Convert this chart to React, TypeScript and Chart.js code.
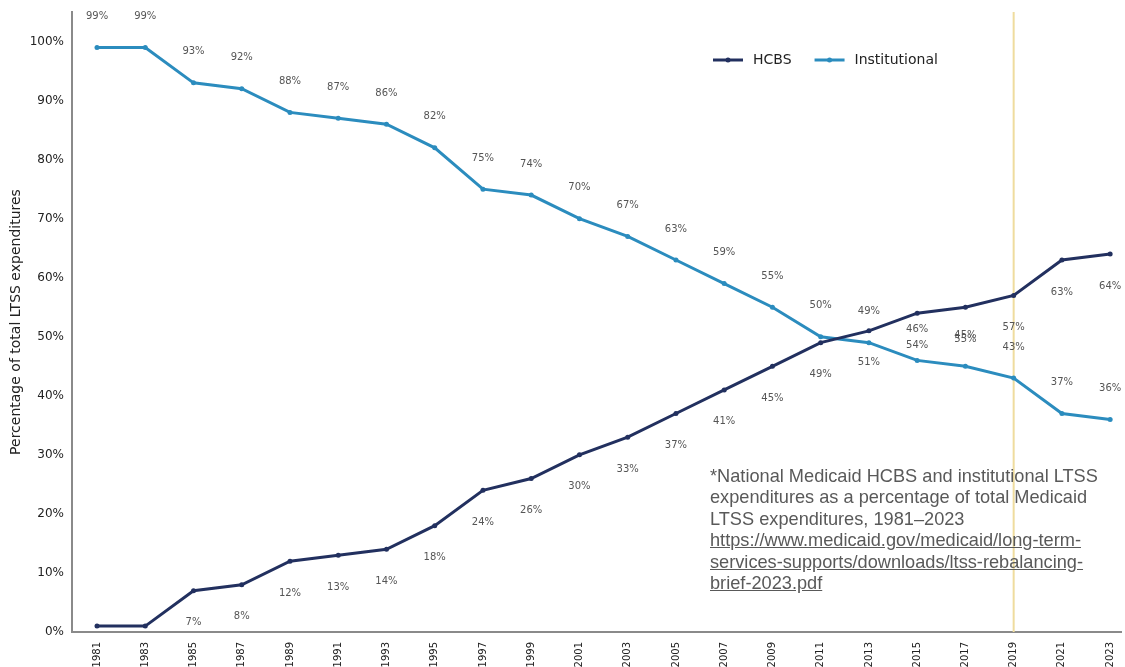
import React, { useEffect, useRef } from "react";
import { Chart, registerables } from "chart.js";

Chart.register(...registerables);

const years = [1981, 1983, 1985, 1987, 1989, 1991, 1993, 1995, 1997, 1999, 2001, 2003, 2005, 2007, 2009, 2011, 2013, 2015, 2017, 2019, 2021, 2023];
const hcbs = [1, 1, 7, 8, 12, 13, 14, 18, 24, 26, 30, 33, 37, 41, 45, 49, 51, 54, 55, 57, 63, 64];
const institutional = [99, 99, 93, 92, 88, 87, 86, 82, 75, 74, 70, 67, 63, 59, 55, 50, 49, 46, 45, 43, 37, 36];
const yTicks = [0, 10, 20, 30, 40, 50, 60, 70, 80, 90, 100];
const markerYear = 2019;
const seriesNames = ["HCBS", "Institutional"];
const seriesColors = ["#22305f", "#2b8cbe"];
const noteLines = [
  "*National Medicaid HCBS and institutional LTSS",
  "expenditures as a percentage of total Medicaid",
  "LTSS expenditures, 1981\u20132023",
];
const linkLines = [
  "https://www.medicaid.gov/medicaid/long-term-",
  "services-supports/downloads/ltss-rebalancing-",
  "brief-2023.pdf",
];

const FONT = "'DejaVu Sans', sans-serif";

const overlayPlugin = {
  id: "overlay",
  beforeDatasetsDraw(chart: any) {
    const { ctx, chartArea, scales } = chart;
    const x = scales.x.getPixelForValue(markerYear);
    ctx.save();
    ctx.strokeStyle = "#efdc9e";
    ctx.lineWidth = 2;
    ctx.beginPath();
    ctx.moveTo(x, chartArea.top);
    ctx.lineTo(x, chartArea.bottom);
    ctx.stroke();
    ctx.restore();
  },
  afterDatasetsDraw(chart: any) {
    const { ctx, chartArea } = chart;
    ctx.save();
    ctx.font = `10px ${FONT}`;
    ctx.fillStyle = "#555555";
    ctx.textAlign = "center";
    ctx.textBaseline = "middle";
    chart.data.datasets.forEach((ds: any, di: number) => {
      const meta = chart.getDatasetMeta(di);
      const off = di === 0 ? 32 : -31;
      meta.data.forEach((pt: any, i: number) => {
        const y = pt.y + off;
        if (y > chartArea.bottom - 4 || y < 5) return;
        ctx.fillText(ds.data[i].y + "%", pt.x, y);
      });
    });
    // legend
    const ly = 60;
    let lx = 713;
    chart.data.datasets.forEach((ds: any) => {
      ctx.strokeStyle = ds.borderColor;
      ctx.lineWidth = 3;
      ctx.beginPath();
      ctx.moveTo(lx, ly);
      ctx.lineTo(lx + 30, ly);
      ctx.stroke();
      ctx.fillStyle = ds.borderColor;
      ctx.beginPath();
      ctx.arc(lx + 15, ly, 2.5, 0, Math.PI * 2);
      ctx.fill();
      ctx.fillStyle = "#222222";
      ctx.font = `14px ${FONT}`;
      ctx.textAlign = "left";
      ctx.fillText(ds.label, lx + 40, ly);
      lx += 40 + ctx.measureText(ds.label).width + 23;
    });
    ctx.restore();
  },
};

export default function App() {
  const ref = useRef<HTMLCanvasElement | null>(null);
  useEffect(() => {
    if (!ref.current) return;
    const mk = (vals: number[]) => years.map((y, i) => ({ x: y, y: vals[i] }));
    const chart = new Chart(ref.current, {
      type: "line",
      data: {
        datasets: [
          {
            label: seriesNames[0],
            data: mk(hcbs),
            borderColor: seriesColors[0],
            backgroundColor: seriesColors[0],
            borderWidth: 3,
            pointRadius: 2.5,
            pointBorderWidth: 0,
            tension: 0,
          },
          {
            label: seriesNames[1],
            data: mk(institutional),
            borderColor: seriesColors[1],
            backgroundColor: seriesColors[1],
            borderWidth: 3,
            pointRadius: 2.5,
            pointBorderWidth: 0,
            tension: 0,
          },
        ],
      },
      options: {
        animation: false,
        responsive: false,
        devicePixelRatio: 1,
        layout: { padding: { top: 12, left: 0, right: 0, bottom: 0 } },
        plugins: { legend: { display: false }, tooltip: { enabled: false } },
        scales: {
          x: {
            type: "linear",
            min: 1979.963,
            max: 2023.45,
            grid: { display: false, drawTicks: false },
            border: { display: true, color: "#8a8a8a", width: 2 },
            afterBuildTicks: (s: any) => {
              s.ticks = years.map((v) => ({ value: v }));
            },
            afterFit: (s: any) => {
              s.height = 43;
              s.paddingLeft = 0;
              s.paddingRight = 0;
            },
            ticks: {
              autoSkip: false,
              minRotation: 90,
              maxRotation: 90,
              padding: 10,
              color: "#222222",
              font: { family: FONT, size: 10 },
              callback: (v: any) => String(v),
            },
          },
          y: {
            min: 0,
            max: 105,
            grid: { display: false, drawTicks: false },
            border: { display: true, color: "#8a8a8a", width: 2 },
            afterBuildTicks: (s: any) => {
              s.ticks = yTicks.map((v) => ({ value: v }));
            },
            afterFit: (s: any) => {
              s.width = 72;
              s.paddingTop = 0;
              s.paddingBottom = 0;
            },
            ticks: {
              padding: 8,
              color: "#222222",
              font: { family: FONT, size: 12 },
              callback: (v: any) => v + "%",
            },
            title: {
              display: true,
              text: "Percentage of total LTSS expenditures",
              color: "#222222",
              font: { family: FONT, size: 14 },
              padding: { top: 8, bottom: 0 },
            },
          },
        },
      },
      plugins: [overlayPlugin],
    } as any);
    return () => chart.destroy();
  }, []);

  return (
    <div style={{ position: "absolute", left: 0, top: 0, width: 1125, height: 675, background: "#fff" }}>
      <canvas ref={ref} width={1125} height={675} style={{ display: "block", width: 1125, height: 675 }} />
      <div
        style={{
          position: "absolute",
          left: 710,
          top: 466,
          fontFamily: "'Liberation Sans', Arial, sans-serif",
          fontSize: 18.2,
          lineHeight: "21.4px",
          color: "#595959",
          whiteSpace: "nowrap",
        }}
      >
        {noteLines.map((l, i) => (
          <div key={"n" + i}>{l}</div>
        ))}
        {linkLines.map((l, i) => (
          <div key={"l" + i} style={{ textDecoration: "underline" }}>
            {l}
          </div>
        ))}
      </div>
    </div>
  );
}
